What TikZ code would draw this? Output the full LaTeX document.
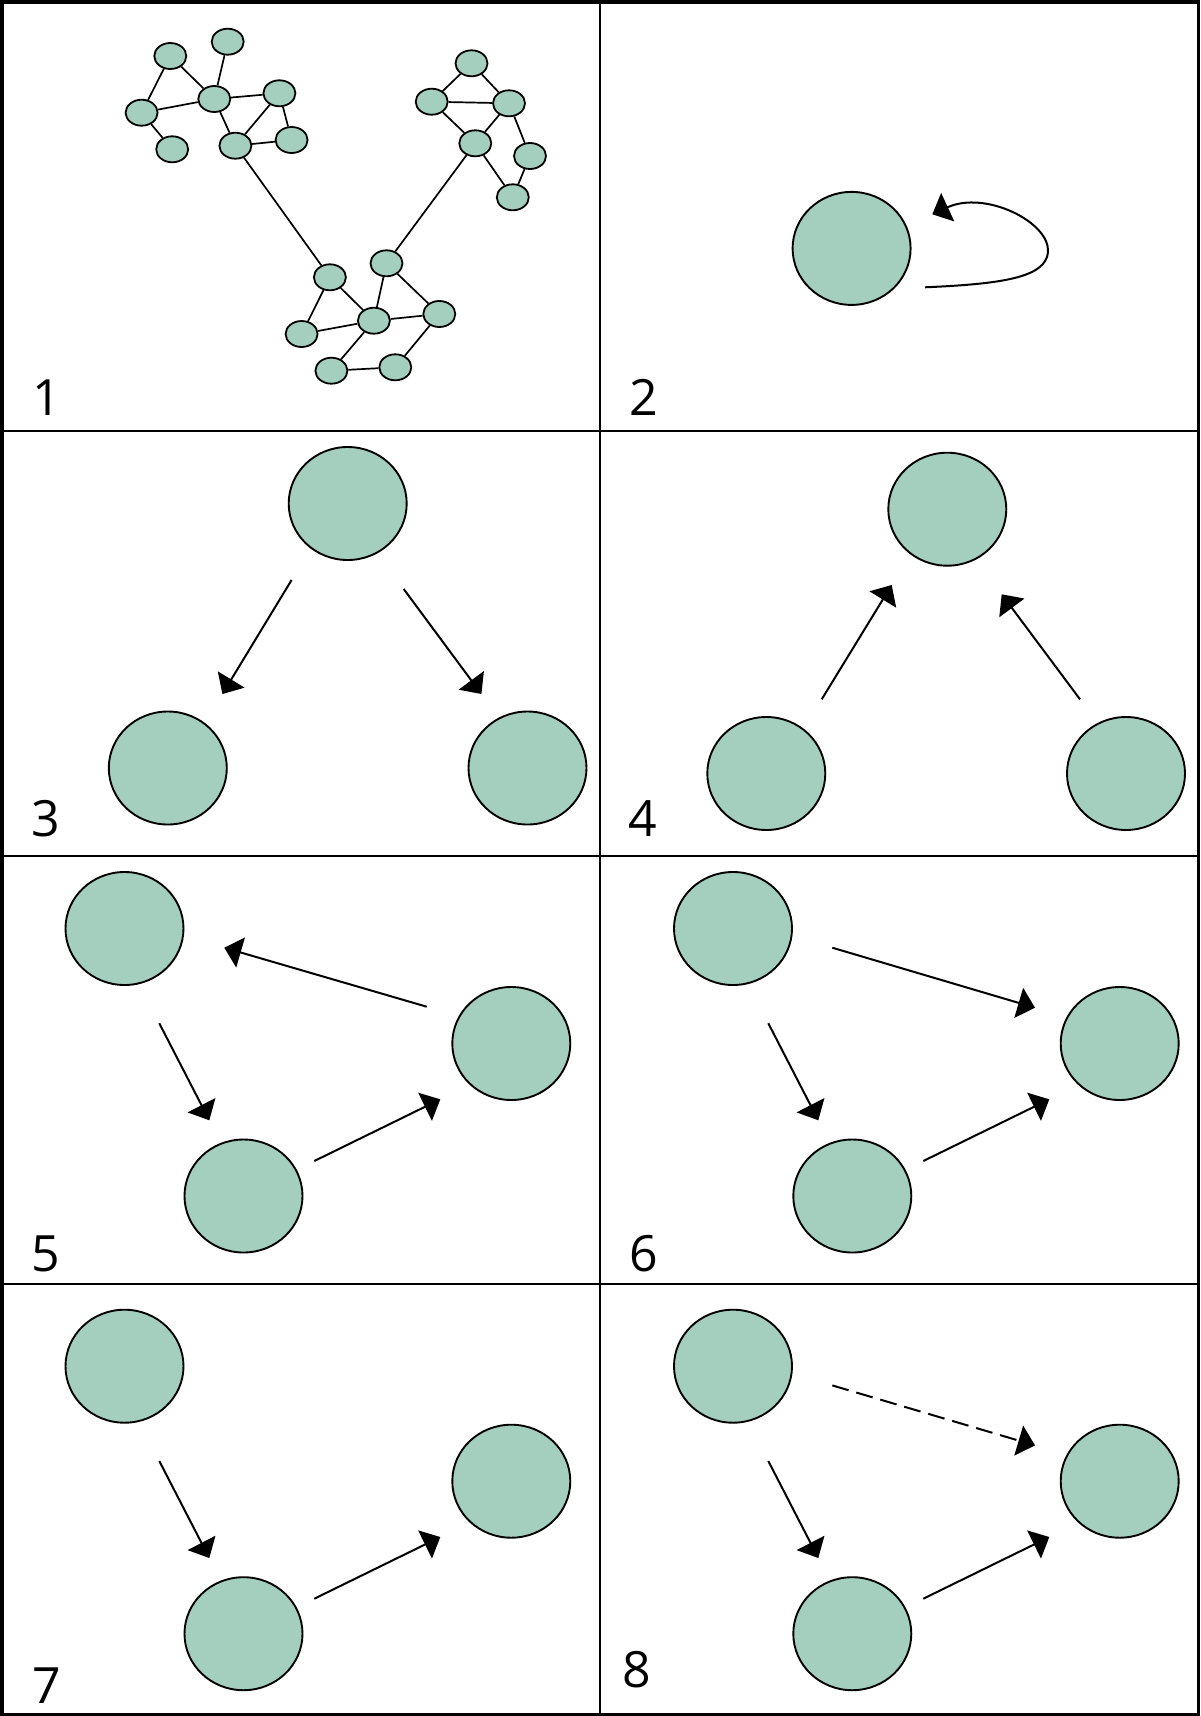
\documentclass[tikz,border=0pt]{standalone}
\usepackage{fontspec}
\setmainfont{Open Sans}
\usetikzlibrary{shapes.geometric,arrows.meta}
\definecolor{nodefill}{HTML}{A4CFBE}
\begin{document}
\begin{tikzpicture}[x=1pt,y=-1pt,
  big/.style={ellipse,draw=black,line width=1.9pt,fill=nodefill,minimum width=118pt,minimum height=113pt,inner sep=0pt},
  small/.style={ellipse,draw=black,line width=1.8pt,fill=nodefill,minimum width=32pt,minimum height=26pt,inner sep=0pt},
  netedge/.style={line width=1.7pt},
  arr/.style={line width=2pt,-{Triangle[length=17pt,width=31pt]}},
  divider/.style={line width=2pt},
  lab/.style={anchor=base west,inner sep=0pt,font=\fontsize{50}{60}\selectfont}
]
\useasboundingbox (0,0) rectangle (1200,1716);
\fill[white] (0,0) rectangle (1200,1716);

% ---------- frame and dividers ----------
\draw[divider] (600,0) -- (600,1716);
\draw[divider] (0,431) -- (1200,431);
\draw[divider] (0,856) -- (1200,856);
\draw[divider] (0,1284) -- (1200,1284);
\draw[line width=3.5pt] (1.75,1.75) rectangle (1198.25,1714.25);

% ---------- panel 1: network ----------
\node[small] (A) at (170.3,56) {};
\node[small] (B) at (227.7,41.7) {};
\node[small] (C) at (141.6,112.7) {};
\node[small] (D) at (214.3,99) {};
\node[small] (E) at (279.4,93.3) {};
\node[small] (F) at (172.2,149.3) {};
\node[small] (G) at (235.4,145.7) {};
\node[small] (H) at (291.6,140) {};
\node[small] (I) at (471.5,63.3) {};
\node[small] (J) at (431.7,101.7) {};
\node[small] (K) at (509,103.3) {};
\node[small] (L) at (475.3,143.3) {};
\node[small] (M) at (530,156) {};
\node[small] (N) at (512.8,197.3) {};
\node[small] (O) at (329.9,277.3) {};
\node[small] (P) at (386.5,263.3) {};
\node[small] (Q) at (301.6,334) {};
\node[small] (R) at (373.9,320.7) {};
\node[small] (S) at (439.3,314) {};
\node[small] (T) at (331.4,370.7) {};
\node[small] (U) at (395.3,367.3) {};
\foreach \u/\v in {A/C,A/D,B/D,C/D,C/F,D/E,D/G,E/G,E/H,G/H,G/O,
                   I/J,I/K,J/K,J/L,K/L,K/M,L/N,M/N,L/P,
                   O/Q,O/R,P/R,P/S,Q/R,R/S,R/T,S/U,T/U}
  \draw[netedge] (\u) -- (\v);

% ---------- panel 2: self loop ----------
\node[big] (n2) at (851.6,248.4) {};
\coordinate (l2s) at ([shift={(73.4,38.9)}]n2.center);
\coordinate (l2e) at ([shift={(80.7,-34.1)}]n2.center);
\draw[arr] (l2s) .. controls (1000,284) and (1046,278) .. (1048,252)
                 .. controls (1050,222) and (985,190) .. (l2e);

% ---------- panel 3 ----------
\node[big] (t3) at (347.7,503.5) {};
\node[big] (bl3) at (167.8,768) {};
\node[big] (br3) at (527.5,768) {};
\draw[arr] ([shift={(-56.1,76.5)}]t3.center) -- ([shift={(54.6,-74)}]bl3.center);
\draw[arr] ([shift={(56,85.5)}]t3.center) -- ([shift={(-46.1,-74)}]br3.center);

% ---------- panel 4 ----------
\node[big] (t4) at (947.3,509.2) {};
\node[big] (bl4) at (766.3,773.5) {};
\node[big] (br4) at (1126,773.5) {};
\draw[arr] ([shift={(55.4,-74.2)}]bl4.center) -- ([shift={(-55.6,75.8)}]t4.center);
\draw[arr] ([shift={(-46,-74.2)}]br4.center) -- ([shift={(54.4,85.1)}]t4.center);

% ---------- panel 5 ----------
\node[big] (tl5) at (124.5,928.5) {};
\node[big] (b5) at (243.5,1196) {};
\node[big] (r5) at (511.3,1043.5) {};
\draw[arr] ([shift={(-84.6,-36.8)}]r5.center) -- ([shift={(99.8,19.2)}]tl5.center);
\draw[arr] ([shift={(34.8,94.8)}]tl5.center) -- ([shift={(-34.2,-75.7)}]b5.center);
\draw[arr] ([shift={(70.8,-35)}]b5.center) -- ([shift={(-71,55.8)}]r5.center);

% ---------- panel 6 ----------
\node[big] (tl6) at (733,928.5) {};
\node[big] (b6) at (852.3,1196) {};
\node[big] (r6) at (1119.7,1043.5) {};
\draw[arr] ([shift={(99.3,19.2)}]tl6.center) -- ([shift={(-84.7,-35.8)}]r6.center);
\draw[arr] ([shift={(35.3,94.8)}]tl6.center) -- ([shift={(-34,-75.7)}]b6.center);
\draw[arr] ([shift={(71,-35)}]b6.center) -- ([shift={(-70.4,55.8)}]r6.center);

% ---------- panel 7 ----------
\node[big] (tl7) at (124.5,1366.2) {};
\node[big] (b7) at (243.5,1633.7) {};
\node[big] (r7) at (511.3,1481.2) {};
\draw[arr] ([shift={(34.8,94.8)}]tl7.center) -- ([shift={(-34.2,-75.7)}]b7.center);
\draw[arr] ([shift={(70.8,-35)}]b7.center) -- ([shift={(-71,55.8)}]r7.center);

% ---------- panel 8 ----------
\node[big] (tl8) at (733,1366.2) {};
\node[big] (b8) at (852.3,1633.7) {};
\node[big] (r8) at (1119.7,1481.2) {};
\draw[arr,dash pattern=on 17pt off 8pt] ([shift={(99.3,19.2)}]tl8.center) -- ([shift={(-84.7,-35.8)}]r8.center);
\draw[arr] ([shift={(35.3,94.8)}]tl8.center) -- ([shift={(-34,-75.7)}]b8.center);
\draw[arr] ([shift={(71,-35)}]b8.center) -- ([shift={(-70.4,55.8)}]r8.center);

% ---------- labels ----------
\node[lab] (lab1) at (32,415) {1};
\node[lab] (lab2) at (629,415) {2};
\node[lab] (lab3) at (31,836.5) {3};
\node[lab] (lab4) at (628,836) {4};
\node[lab] (lab5) at (31,1271) {5};
\node[lab] (lab6) at (629,1271) {6};
\node[lab] (lab7) at (32,1703) {7};
\node[lab] (lab8) at (622,1687) {8};
\end{tikzpicture}
\end{document}
